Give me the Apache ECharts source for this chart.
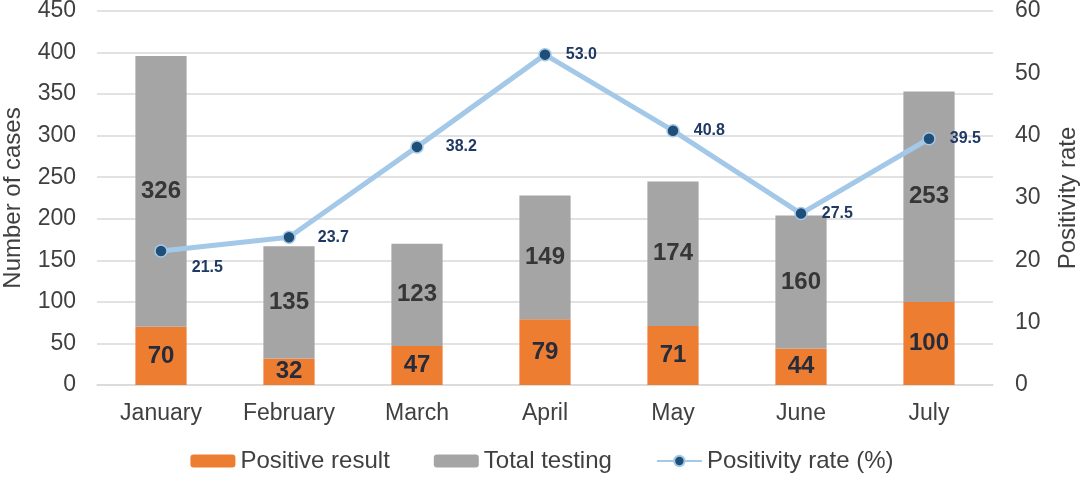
<!DOCTYPE html>
<html>
<head>
<meta charset="utf-8">
<script src="https://cdn.jsdelivr.net/npm/echarts@6/dist/echarts.min.js"></script>
<style>
  html, body { margin: 0; padding: 0; background: #fff; }
  #chart { width: 1084px; height: 483px; }
</style>
</head>
<body>
<div id="chart"></div>
<script>
var months = ['January', 'February', 'March', 'April', 'May', 'June', 'July'];
var positive = [70, 32, 47, 79, 71, 44, 100];
var negative = [326, 135, 123, 149, 174, 160, 253];
var rate = [21.5, 23.7, 38.2, 53.0, 40.8, 27.5, 39.5];

var myChart = echarts.init(document.getElementById('chart'));

// 柱内数字
function barLabel(color) {
  return {
    show: true,
    position: 'inside',
    fontSize: 24,
    fontWeight: 'bold',
    color: color
  };
}

// 折线标签的微调
var rateLabelOffset = [[10, 17], [8, 0], [8, 0], [0, 0], [0, 0], [0, 0], [0, 0]];

var option = {
  animation: false,
  textStyle: { fontFamily: 'Arial, Liberation Sans' },
  grid: { left: 97, right: 91, top: 11, bottom: 98, outerBoundsMode: 'none' },
  legend: {
    bottom: 5,
    left: 'center',
    itemWidth: 45,
    itemHeight: 13,
    itemGap: 44,
    textStyle: { fontSize: 24, color: '#404040' },
    data: ['Positive result', 'Total testing', 'Positivity rate (%)']
  },
  xAxis: {
    type: 'category',
    data: months,
    axisLine: { lineStyle: { color: '#d9d9d9', width: 1.5 } },
    axisTick: { show: false },
    axisLabel: { fontSize: 23, color: '#404040', margin: 17 }
  },
  yAxis: [{
    type: 'value',
    min: 0, max: 450, interval: 50,
    name: 'Number of cases',
    nameLocation: 'middle',
    nameGap: 72,
    nameTextStyle: { fontSize: 24, color: '#404040' },
    axisLabel: { fontSize: 23, color: '#404040', margin: 21 },
    splitLine: { lineStyle: { color: '#d9d9d9', width: 1.5 } }
  }, {
    type: 'value',
    min: 0, max: 60, interval: 10,
    name: 'Positivity rate',
    nameLocation: 'middle',
    nameGap: 63,
    nameRotate: 90,
    nameTextStyle: { fontSize: 24, color: '#404040' },
    axisLabel: { fontSize: 23, color: '#404040', margin: 22 },
    splitLine: { show: false }
  }],
  series: [{
    name: 'Positive result',
    type: 'bar',
    stack: 'cases',
    barWidth: '40%',
    itemStyle: { color: '#ed7d31' },
    label: barLabel('#262c3a'),
    data: positive
  }, {
    name: 'Total testing',
    type: 'bar',
    stack: 'cases',
    itemStyle: { color: '#a5a5a5' },
    label: barLabel('#363636'),
    data: negative
  }, {
    name: 'Positivity rate (%)',
    type: 'line',
    yAxisIndex: 1,
    symbol: 'circle',
    symbolSize: 12,
    lineStyle: { color: '#a4c8e8', width: 5 },
    itemStyle: { color: '#1f4e79', borderColor: '#a4c8e8', borderWidth: 1.5 },
    label: {
      show: true,
      position: 'right',
      distance: 14,
      fontSize: 16,
      fontWeight: 'bold',
      color: '#1f3864',
      formatter: function (p) { return p.value.toFixed(1); }
    },
    data: rate.map(function (v, i) {
      return { value: v, label: { offset: rateLabelOffset[i] } };
    })
  }]
};

myChart.setOption(option);
</script>
</body>
</html>
